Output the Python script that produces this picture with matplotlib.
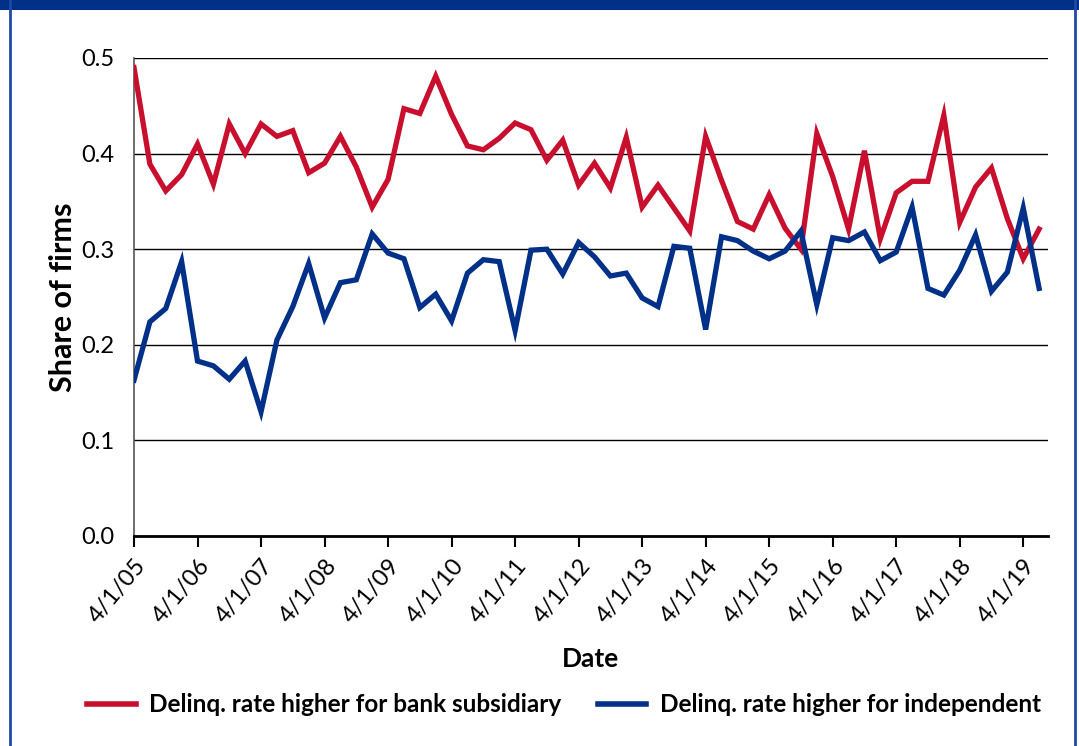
import matplotlib
matplotlib.use("Agg")
import matplotlib.pyplot as plt
from matplotlib.lines import Line2D
from matplotlib.patches import Rectangle

# ---- data (quarterly, 4/1/05 .. 7/1/19) ----
bank_higher = [0.490, 0.389, 0.361, 0.378, 0.410, 0.368, 0.431, 0.400, 0.431, 0.418,
               0.424, 0.380, 0.390, 0.418, 0.386, 0.344, 0.373, 0.447, 0.442, 0.481,
               0.441, 0.408, 0.404, 0.416, 0.432, 0.425, 0.393, 0.414, 0.367, 0.390,
               0.364, 0.417, 0.344, 0.367, 0.343, 0.319, 0.418, 0.372, 0.329, 0.321,
               0.357, 0.322, 0.300, 0.421, 0.376, 0.321, 0.403, 0.311, 0.359, 0.371,
               0.371, 0.440, 0.328, 0.365, 0.385, 0.332, 0.290, 0.321]
indep_higher = [0.163, 0.224, 0.238, 0.287, 0.183, 0.178, 0.164, 0.183, 0.130, 0.205,
                0.240, 0.285, 0.228, 0.265, 0.268, 0.316, 0.296, 0.290, 0.239, 0.253,
                0.225, 0.275, 0.289, 0.287, 0.215, 0.299, 0.300, 0.274, 0.307, 0.292,
                0.272, 0.275, 0.249, 0.240, 0.303, 0.301, 0.216, 0.313, 0.309, 0.298,
                0.290, 0.298, 0.319, 0.242, 0.312, 0.309, 0.318, 0.288, 0.297, 0.344,
                0.259, 0.252, 0.278, 0.315, 0.256, 0.276, 0.343, 0.259]
tick_labels = ["4/1/05", "4/1/06", "4/1/07", "4/1/08", "4/1/09", "4/1/10", "4/1/11",
               "4/1/12", "4/1/13", "4/1/14", "4/1/15", "4/1/16", "4/1/17", "4/1/18",
               "4/1/19"]
y_ticks = [0.0, 0.1, 0.2, 0.3, 0.4, 0.5]
series_names = ["Delinq. rate higher for bank subsidiary",
                "Delinq. rate higher for independent"]

RED = "#C8102E"
BLUE = "#003087"
FONT = ["Lato", "DejaVu Sans"]
plt.rcParams["font.family"] = FONT

W, H = 1079, 746
fig = plt.figure(figsize=(W / 100, H / 100), dpi=100)
fig.patch.set_facecolor("white")

# frame decorations
fig.add_artist(Rectangle((0, 1 - 10 / H), 1, 10 / H, transform=fig.transFigure,
                         facecolor=BLUE, edgecolor="none"))
fig.add_artist(Line2D([10 / W, 10 / W], [0, 1], transform=fig.transFigure,
                      color="#1f48a8", lw=2))
fig.add_artist(Line2D([1075 / W, 1075 / W], [0, 1], transform=fig.transFigure,
                      color="#1f48a8", lw=2))

ax = fig.add_axes([134 / W, 1 - 536 / H, (1048 - 134) / W, (536 - 58) / H])
x = list(range(len(bank_higher)))
ax.plot(x, bank_higher, color=RED, lw=3.8, solid_joinstyle="miter", zorder=3)
ax.plot(x, indep_higher, color=BLUE, lw=3.8, solid_joinstyle="miter", zorder=3)

ax.set_xlim(0, 57.56)
ax.set_ylim(0, 0.5)
ax.set_yticks(y_ticks)
ax.set_yticklabels([f"{v:.1f}" for v in y_ticks], fontsize=17)
ax.tick_params(axis="y", length=0, pad=14)
ax.set_xticks(range(0, 4 * len(tick_labels), 4))
ax.set_xticklabels(tick_labels, rotation=50, ha="right", rotation_mode="anchor",
                   fontsize=17)
ax.tick_params(axis="x", length=8, width=1.5, color="black", pad=6)
ax.yaxis.grid(True, color="black", lw=1)
ax.set_axisbelow(True)
for s in ["top", "right"]:
    ax.spines[s].set_visible(False)
ax.spines["left"].set_color("#555555")
ax.spines["left"].set_linewidth(1.2)
ax.spines["bottom"].set_color("black")
ax.spines["bottom"].set_linewidth(2)

ax.set_ylabel("Share of firms", fontsize=22, fontweight="bold", labelpad=3)
ax.set_xlabel("Date", fontsize=19, fontweight="bold", labelpad=14)

handles = [Line2D([], [], color=RED, lw=4), Line2D([], [], color=BLUE, lw=4)]
fig.legend(handles, series_names, loc="center", bbox_to_anchor=(564 / W, 1 - 705 / H),
           ncol=2, frameon=False, prop={"weight": "bold", "size": 17.5},
           handlelength=2.0, columnspacing=1.5, handletextpad=0.55)

fig.savefig("out.png", dpi=100)
